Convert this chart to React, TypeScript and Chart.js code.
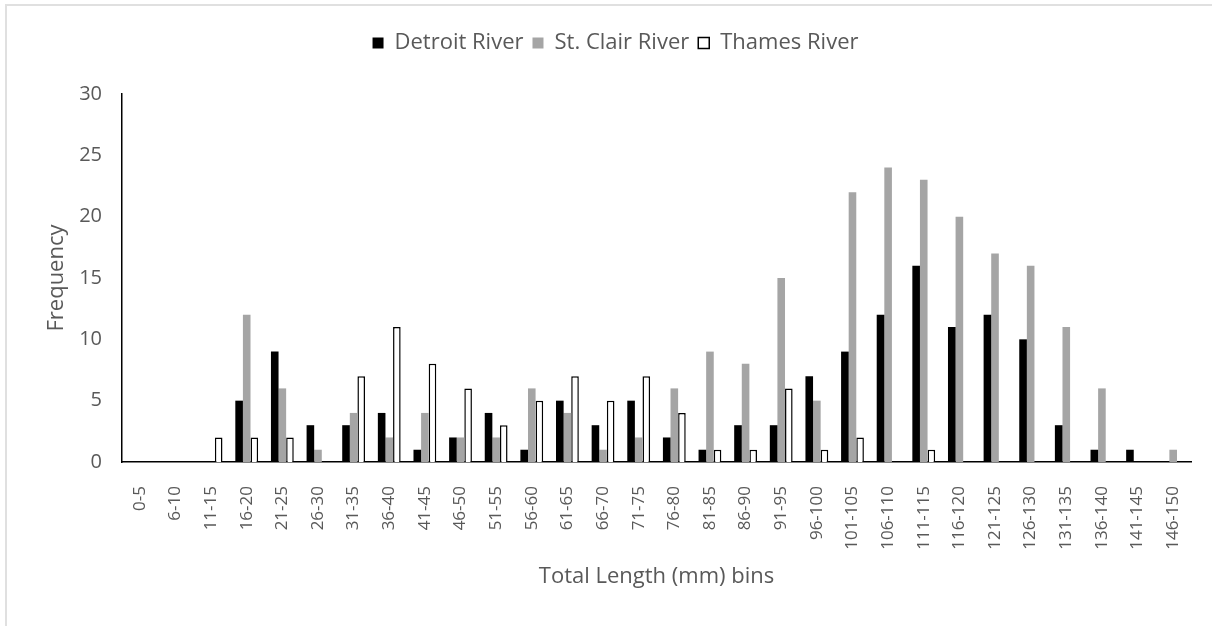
import React, { useEffect, useRef } from "react";
import { Chart, registerables } from "chart.js";

Chart.register(...registerables);

const categories = [
  "0-5", "6-10", "11-15", "16-20", "21-25", "26-30", "31-35", "36-40", "41-45", "46-50",
  "51-55", "56-60", "61-65", "66-70", "71-75", "76-80", "81-85", "86-90", "91-95", "96-100",
  "101-105", "106-110", "111-115", "116-120", "121-125", "126-130", "131-135", "136-140", "141-145", "146-150",
];

const detroitRiver = [0, 0, 0, 5, 9, 3, 3, 4, 1, 2, 4, 1, 5, 3, 5, 2, 1, 3, 3, 7, 9, 12, 16, 11, 12, 10, 3, 1, 1, 0];
const stClairRiver = [0, 0, 0, 12, 6, 1, 4, 2, 4, 2, 2, 6, 4, 1, 2, 6, 9, 8, 15, 5, 22, 24, 23, 20, 17, 16, 11, 6, 0, 1];
const thamesRiver = [0, 0, 2, 2, 2, 0, 7, 11, 8, 6, 3, 5, 7, 5, 7, 4, 1, 1, 6, 1, 2, 0, 1, 0, 0, 0, 0, 0, 0, 0];

const yTicks = [0, 5, 10, 15, 20, 25, 30];

const FONT = "'Open Sans', 'Noto Sans', sans-serif";
const TEXT = "#595959";

export default function App() {
  const ref = useRef<HTMLCanvasElement | null>(null);

  useEffect(() => {
    if (!ref.current) return;
    const chart = new Chart(ref.current, {
      type: "bar",
      data: {
        labels: categories,
        datasets: [
          { label: "Detroit River", data: detroitRiver, backgroundColor: "#000000", borderWidth: 0 },
          { label: "St. Clair River", data: stClairRiver, backgroundColor: "#a5a5a5", borderWidth: 0 },
          { label: "Thames River", data: thamesRiver, backgroundColor: "#ffffff", borderColor: "#000000", borderWidth: 1.5 },
        ],
      },
      options: {
        responsive: false,
        animation: false,
        datasets: { bar: { categoryPercentage: 0.64, barPercentage: 1.0 } },
        layout: { padding: { left: 40, right: 21, top: 23, bottom: 32 } },
        plugins: {
          tooltip: { enabled: false },
          legend: {
            display: true,
            position: "top",
            labels: {
              boxWidth: 11,
              boxHeight: 11,
              padding: 9,
              color: TEXT,
              font: { family: FONT, size: 22 },
            },
          },
          title: {
            display: true,
            text: "",
            weight: 500,
            padding: { top: 0, bottom: 18 },
            font: { size: 10 },
          } as any,
        },
        scales: {
          x: {
            type: "category",
            offset: true,
            grid: { display: false, drawTicks: false },
            border: { display: true, color: "#000000", width: 1.5 },
            ticks: {
              autoSkip: false,
              minRotation: 90,
              maxRotation: 90,
              padding: 24,
              color: TEXT,
              font: { family: FONT, size: 17 },
            },
            title: {
              display: true,
              text: "Total Length (mm) bins",
              color: TEXT,
              font: { family: FONT, size: 22 },
              padding: { top: 4, bottom: 4 },
            },
            afterFit: (s: any) => {
              s.height = 132;
              s.paddingLeft = 0;
              s.paddingRight = 0;
            },
          },
          y: {
            min: 0,
            max: 30,
            afterBuildTicks: (s: any) => {
              s.ticks = yTicks.map((v) => ({ value: v }));
            },
            grid: { display: false, drawTicks: false },
            border: { display: true, color: "#000000", width: 1.5 },
            ticks: {
              padding: 20,
              color: TEXT,
              font: { family: FONT, size: 20 },
            },
            title: {
              display: true,
              text: "Frequency",
              color: TEXT,
              font: { family: FONT, size: 22 },
              padding: { top: 4, bottom: 4 },
            },
            afterFit: (s: any) => {
              s.width = 82;
            },
          },
        },
      },
    });
    return () => chart.destroy();
  }, []);

  return (
    <div style={{ position: "fixed", left: 0, top: 0, width: 1212, height: 626, overflow: "hidden", background: "#ffffff" }}>
      <div
        style={{
          position: "absolute",
          left: 5,
          top: 4,
          width: 1300,
          height: 800,
          border: "2px solid #e0e0e0",
          boxSizing: "border-box",
        }}
      />
      <canvas ref={ref} width={1212} height={626} style={{ position: "absolute", left: 0, top: 0 }} />
    </div>
  );
}
